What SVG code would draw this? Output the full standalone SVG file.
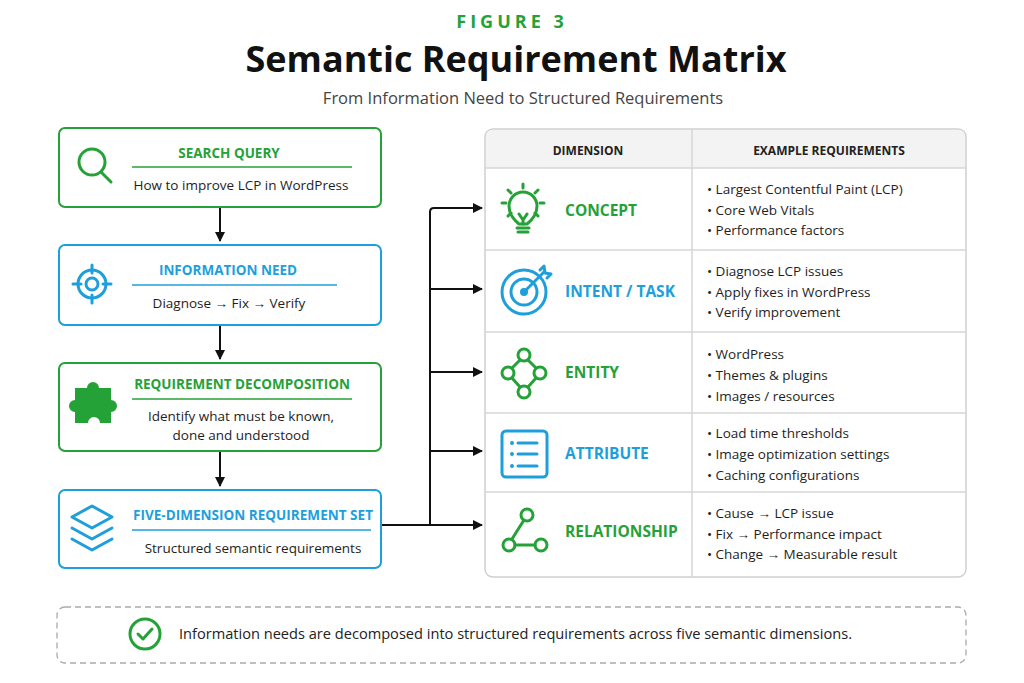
<svg xmlns="http://www.w3.org/2000/svg" width="1024" height="683" viewBox="0 0 1024 683">
<defs>
<style>
text{font-family:"Open Sans","Noto Sans","Liberation Sans",sans-serif}
.g{fill:#25a237}.b{fill:#1e9fdc}
.gs{stroke:#25a237}.bs{stroke:#1e9fdc}
.box{fill:#fff;stroke-width:2}
.h{font-size:13.5px;font-weight:700;text-anchor:middle}
.t{font-size:13.5px;fill:#1e1e1e;text-anchor:middle}
.d{font-size:15.5px;font-weight:700}
.li{font-size:13.5px;fill:#1e1e1e}
.ic{fill:none;stroke-width:3;stroke-linecap:round;stroke-linejoin:round}
.grid{stroke:#d6d6d6;stroke-width:1.5}
.con{fill:none;stroke:#111;stroke-width:2}
</style>
<marker id="ar" markerWidth="10" markerHeight="10" refX="9" refY="5" orient="auto" markerUnits="userSpaceOnUse"><path d="M0,0L10,5L0,10z" fill="#111"/></marker>
</defs>
<rect width="1024" height="683" fill="#fff"/>
<text x="512" y="28" text-anchor="middle" font-size="18" font-weight="700" letter-spacing="4" class="g">FIGURE 3</text>
<text x="516" y="72" text-anchor="middle" font-size="36" font-weight="700" fill="#111">Semantic Requirement Matrix</text>
<text x="523" y="104" text-anchor="middle" font-size="16.5" fill="#444">From Information Need to Structured Requirements</text>

<g id="connectors">
<line class="con" x1="220" y1="208" x2="220" y2="241" marker-end="url(#ar)"/>
<line class="con" x1="220" y1="326" x2="220" y2="359" marker-end="url(#ar)"/>
<line class="con" x1="220" y1="452" x2="220" y2="486" marker-end="url(#ar)"/>
<path class="con" d="M382,525H430V212Q430,208 434,208H482" marker-end="url(#ar)"/>
<line class="con" x1="430" y1="289" x2="482" y2="289" marker-end="url(#ar)"/>
<line class="con" x1="430" y1="372" x2="482" y2="372" marker-end="url(#ar)"/>
<line class="con" x1="430" y1="451" x2="482" y2="451" marker-end="url(#ar)"/>
<line class="con" x1="430" y1="525" x2="482" y2="525" marker-end="url(#ar)"/>
</g>

<g id="search-query">
<rect class="box gs" x="59" y="128" width="322" height="79" rx="6"/>
<circle class="ic gs" cx="92" cy="162" r="13"/><line class="ic gs" x1="101" y1="172" x2="111" y2="182"/>
<text class="h g" x="229" y="158">SEARCH QUERY</text>
<line class="gs" x1="132" y1="167" x2="352" y2="167" stroke-width="1.5"/>
<text class="t" x="241" y="190">How to improve LCP in WordPress</text>
</g>

<g id="information-need">
<rect class="box bs" x="59" y="245" width="322" height="80" rx="6"/>
<circle class="ic bs" cx="92" cy="284" r="14" stroke-width="2.5"/><circle class="ic bs" cx="92" cy="284" r="6" stroke-width="2.5"/>
<path class="ic bs" d="M92,265v8M92,295v8M73,284h8M103,284h8" stroke-width="2.5"/>
<text class="h b" x="228" y="275">INFORMATION NEED</text>
<line class="bs" x1="132" y1="285" x2="337" y2="285" stroke-width="1.5"/>
<text class="t" x="229" y="308">Diagnose → Fix → Verify</text>
</g>

<g id="requirement-decomposition">
<rect class="box gs" x="59" y="363" width="322" height="88" rx="6"/>
<path class="g" d="M75,388h12a6,6 0 1 1 12,0h12v12a6,6 0 1 1 0,12v11h-11a6,6 0 1 0 -12,0h-13v-11a6,6 0 1 1 0,-12z"/>
<text class="h g" x="242" y="389">REQUIREMENT DECOMPOSITION</text>
<line class="gs" x1="132" y1="399" x2="352" y2="399" stroke-width="1.5"/>
<text class="t" x="241" y="421">Identify what must be known,</text>
<text class="t" x="241" y="440">done and understood</text>
</g>

<g id="five-dimension-set">
<rect class="box bs" x="59" y="490" width="322" height="78" rx="6"/>
<path class="ic bs" d="M92,506l20,11-20,11-20-11z" stroke-width="2.5"/>
<path class="ic bs" d="M72,528l20,11 20-11M72,539l20,11 20-11" stroke-width="2.5"/>
<text class="h b" x="253" y="520" textLength="240" lengthAdjust="spacingAndGlyphs">FIVE-DIMENSION REQUIREMENT SET</text>
<line class="bs" x1="132" y1="530" x2="371" y2="530" stroke-width="1.5"/>
<text class="t" x="253" y="553">Structured semantic requirements</text>
</g>

<g id="matrix">
<rect x="485" y="129" width="481" height="448" rx="8" fill="#fff" stroke="#d0d0d0" stroke-width="1.5"/>
<path d="M486,168V137Q486,130 493,130H958Q965,130 965,137V168z" fill="#f3f3f3"/>
<line class="grid" x1="485" y1="168" x2="966" y2="168"/>
<line class="grid" x1="485" y1="250" x2="966" y2="250"/>
<line class="grid" x1="485" y1="332" x2="966" y2="332"/>
<line class="grid" x1="485" y1="413" x2="966" y2="413"/>
<line class="grid" x1="485" y1="492" x2="966" y2="492"/>
<line class="grid" x1="692" y1="129" x2="692" y2="577"/>
<text x="588" y="155" text-anchor="middle" font-size="12" font-weight="700" fill="#222">DIMENSION</text>
<text x="829" y="155" text-anchor="middle" font-size="12" font-weight="700" fill="#222">EXAMPLE REQUIREMENTS</text>
</g>

<g id="concept">
<path class="ic gs" d="M519,224q-10-8-10-18a14,14 0 1 1 28,0q0,10-10,18z" stroke-width="2.5"/>
<path class="ic gs" d="M517,228h12M518,232h10M519,214l4,6 4-6M523,220v4M523,184v4M508,190l3,3M538,190l-3,3M502,203h4M540,203h4M508,216l3-3M538,216l-3-3" stroke-width="2.5"/>
<text class="d g" x="565" y="216">CONCEPT</text>
<text class="li" x="707" y="194">•  Largest Contentful Paint (LCP)</text>
<text class="li" x="707" y="215">•  Core Web Vitals</text>
<text class="li" x="707" y="235">•  Performance factors</text>
</g>

<g id="intent-task">
<circle class="ic bs" cx="524" cy="292" r="22"/><circle class="ic bs" cx="524" cy="292" r="13"/><circle class="b" cx="524" cy="292" r="4"/>
<path class="ic bs" d="M524,292l20-20M540,270l4-4 1,7 6,1-4,4" stroke-width="2.5"/>
<text class="d b" x="565" y="297">INTENT / TASK</text>
<text class="li" x="707" y="276">•  Diagnose LCP issues</text>
<text class="li" x="707" y="297">•  Apply fixes in WordPress</text>
<text class="li" x="707" y="317">•  Verify improvement</text>
</g>

<g id="entity">
<circle class="ic gs" cx="524" cy="355" r="6"/><circle class="ic gs" cx="508" cy="373" r="6"/><circle class="ic gs" cx="540" cy="373" r="6"/><circle class="ic gs" cx="524" cy="392" r="6"/>
<path class="ic gs" d="M520,360l-8,8M528,360l8,8M512,378l8,9M536,378l-8,9"/>
<text class="d g" x="565" y="378">ENTITY</text>
<text class="li" x="707" y="359">•  WordPress</text>
<text class="li" x="707" y="380">•  Themes &amp; plugins</text>
<text class="li" x="707" y="401">•  Images / resources</text>
</g>

<g id="attribute">
<rect class="ic bs" x="502" y="431" width="45" height="46" rx="4"/>
<circle class="b" cx="512" cy="443" r="2"/><circle class="b" cx="512" cy="454" r="2"/><circle class="b" cx="512" cy="466" r="2"/>
<path class="ic bs" d="M518,443h19M518,454h19M518,466h19"/>
<text class="d b" x="565" y="459">ATTRIBUTE</text>
<text class="li" x="707" y="438">•  Load time thresholds</text>
<text class="li" x="707" y="459">•  Image optimization settings</text>
<text class="li" x="707" y="480">•  Caching configurations</text>
</g>

<g id="relationship">
<circle class="ic gs" cx="527" cy="515" r="6"/><circle class="ic gs" cx="509" cy="545" r="6"/><circle class="ic gs" cx="541" cy="545" r="6"/>
<path class="ic gs" d="M524,520l-12,19M515,545h20"/>
<text class="d g" x="565" y="537">RELATIONSHIP</text>
<text class="li" x="707" y="518">•  Cause → LCP issue</text>
<text class="li" x="707" y="539">•  Fix → Performance impact</text>
<text class="li" x="707" y="559">•  Change → Measurable result</text>
</g>

<g id="footer">
<rect x="57" y="607" width="909" height="56" rx="8" fill="#fff" stroke="#aaa" stroke-width="1.3" stroke-dasharray="6 4"/>
<circle class="ic gs" cx="145" cy="634" r="15" stroke-width="2.5"/>
<path class="ic gs" d="M138,634l5,5 9-10" stroke-width="2.5"/>
<text x="179" y="639" font-size="14.6" fill="#222">Information needs are decomposed into structured requirements across five semantic dimensions.</text>
</g>
</svg>
